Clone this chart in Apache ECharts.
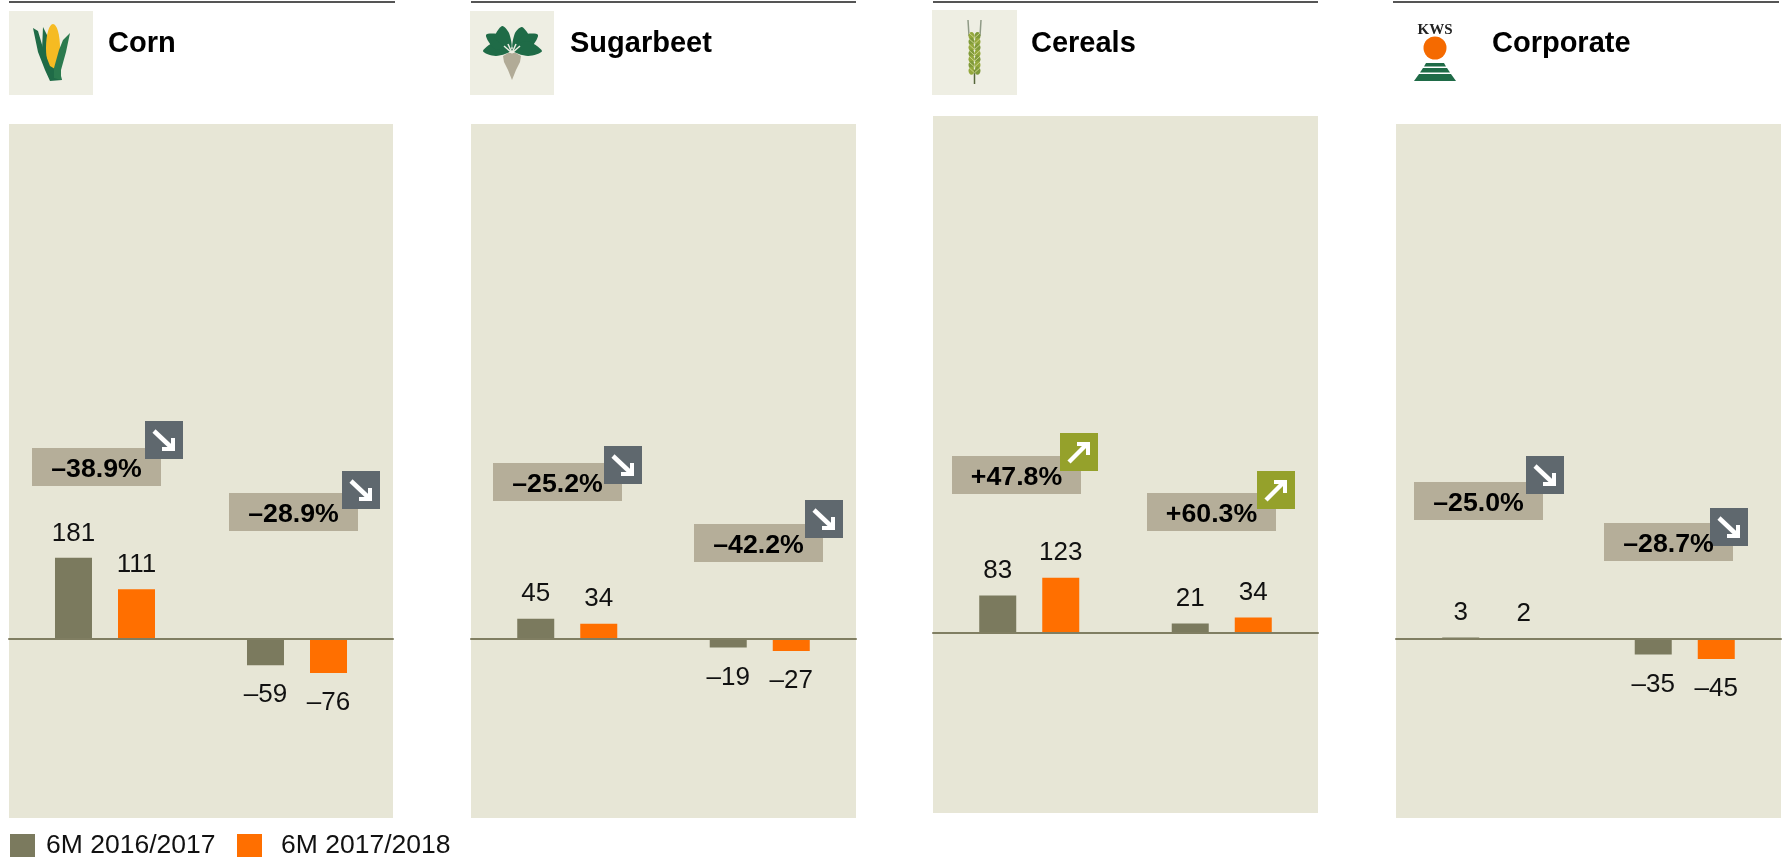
<!DOCTYPE html>
<html>
<head>
<meta charset="utf-8">
<style>html,body{margin:0;padding:0;background:#fff}#c{width:1787px;height:858px}</style>
<script src="https://cdn.jsdelivr.net/npm/echarts@6/dist/echarts.min.js"></script>
</head>
<body>
<div id="c"></div>
<script>
// ---- data ----
const panelNames = ['Corn', 'Sugarbeet', 'Cereals', 'Corporate'];
const seriesNames = ['6M 2016/2017', '6M 2017/2018'];
const categories = ['Group A', 'Group B'];
const prevCorn = [181, -59];
const currCorn = [111, -76];
const prevSugarbeet = [45, -19];
const currSugarbeet = [34, -27];
const prevCereals = [83, 21];
const currCereals = [123, 34];
const prevCorporate = [3, -35];
const currCorporate = [2, -45];
const changeCorn = ['–38.9%', '–28.9%'];
const changeSugarbeet = ['–25.2%', '–42.2%'];
const changeCereals = ['+47.8%', '+60.3%'];
const changeCorporate = ['–25.0%', '–28.7%'];

// ---- styles & layout ----
const GREY = '#7b7a5e', ORANGE = '#ff6f00', PANEL = '#e7e6d6', BOX = '#b5ae99',
      DOWN = '#5f686e', UP = '#95a12b', FONT = '"Liberation Sans", Arial, sans-serif',
      ICONBG = '#eeeee3', LEAF = '#1f6b47';

const panels = [
  { x: 9,    w: 384, top: 124, h: 694, min: -400, max: 1150, lineX: 9,    lineW: 386, prev: prevCorn, curr: currCorn, change: changeCorn, titleX: 108,
    boxes: [[32, 448, 145, 421], [229, 493, 342, 471]] },
  { x: 471,  w: 385, top: 124, h: 694, min: -400, max: 1150, lineX: 471,  lineW: 385, prev: prevSugarbeet, curr: currSugarbeet, change: changeSugarbeet, titleX: 570,
    boxes: [[493, 463, 604, 446], [694, 524, 805, 500]] },
  { x: 933,  w: 385, top: 116, h: 697, min: -402, max: 1153, lineX: 933,  lineW: 385, prev: prevCereals, curr: currCereals, change: changeCereals, titleX: 1031,
    boxes: [[952, 456, 1060, 433], [1147, 493, 1257, 471]] },
  { x: 1396, w: 385, top: 124, h: 694, min: -400, max: 1150, lineX: 1393, lineW: 386, prev: prevCorporate, curr: currCorporate, change: changeCorporate, titleX: 1492,
    boxes: [[1414, 482, 1526, 456], [1604, 523, 1710, 508]] }
];

const grid = [], xAxis = [], yAxis = [], series = [], graphic = [];

function labelOf(v) {
  return { show: true, fontFamily: FONT, fontSize: 26, color: '#111',
    position: v < 0 ? 'bottom' : 'top', distance: v < 0 ? 17 : 11.5 };
}
function dataOf(vals) {
  return vals.map(v => ({ value: v, label: labelOf(v) }));
}
function poly(points, fill, z, smooth) {
  return { type: 'polygon', z: z || 11, silent: true, shape: { points, smooth: smooth || 0 }, style: { fill } };
}
function line(points, stroke, lineWidth, z) {
  return { type: 'polyline', z: z || 11, silent: true, shape: { points },
    style: { stroke, lineWidth, fill: null, lineJoin: 'miter', lineCap: 'butt' } };
}

panels.forEach((p, i) => {
  grid.push({ left: p.x, top: p.top, width: p.w, height: p.h, show: true, backgroundColor: PANEL, borderWidth: 0 });
  xAxis.push({ type: 'category', gridIndex: i, data: categories, z: 5,
    axisLine: { show: true, lineStyle: { color: '#807e62', width: 2 } },
    axisTick: { show: false }, axisLabel: { show: false }, splitLine: { show: false } });
  yAxis.push({ type: 'value', gridIndex: i, show: false, min: p.min, max: p.max, splitLine: { show: false } });
  [p.prev, p.curr].forEach((vals, s) => {
    series.push({ type: 'bar', name: seriesNames[s], xAxisIndex: i, yAxisIndex: i,
      barWidth: 37, barGap: '70.3%', itemStyle: { color: s ? ORANGE : GREY },
      label: { show: true, formatter: o => String(o.value).replace('-', '–') },
      data: dataOf(vals) });
  });

  // top rule and title
  graphic.push({ type: 'rect', z: 10, silent: true, shape: { x: p.lineX, y: 1, width: p.lineW, height: 2 }, style: { fill: '#555' } });
  graphic.push({ type: 'text', z: 11, silent: true, style: { text: panelNames[i], x: p.titleX, y: 44,
    font: 'bold 29px ' + FONT, fill: '#000', align: 'left', textAlign: 'left', verticalAlign: 'middle', textVerticalAlign: 'middle' } });

  // change badges
  p.boxes.forEach((b, k) => {
    const txt = p.change[k], up = txt[0] === '+';
    graphic.push({ type: 'rect', z: 10, silent: true, shape: { x: b[0], y: b[1], width: 129, height: 38 }, style: { fill: BOX } });
    graphic.push({ type: 'rect', z: 11, silent: true, shape: { x: b[2], y: b[3], width: 38, height: 38 }, style: { fill: up ? UP : DOWN } });
    const ax = b[2], ay = b[3];
    if (up) {
      graphic.push(line([[ax + 9, ay + 29], [ax + 27, ay + 11]], '#fff', 4.5, 12));
      graphic.push(line([[ax + 17, ay + 11], [ax + 28, ay + 11], [ax + 28, ay + 22]], '#fff', 4, 12));
    } else {
      graphic.push(line([[ax + 9, ay + 10], [ax + 27, ay + 27]], '#fff', 4.5, 12));
      graphic.push(line([[ax + 17, ay + 28], [ax + 28, ay + 28], [ax + 28, ay + 17]], '#fff', 4, 12));
    }
    graphic.push({ type: 'text', z: 13, silent: true, style: { text: txt, x: b[0] + 64.5, y: b[1] + 22,
      font: 'bold 26.7px ' + FONT, fill: '#000', align: 'center', textAlign: 'center', verticalAlign: 'middle', textVerticalAlign: 'middle' } });
  });
});

// ---- icons ----
// corn
graphic.push({ type: 'rect', z: 10, silent: true, shape: { x: 9, y: 11, width: 84, height: 84 }, style: { fill: ICONBG } });
graphic.push(poly([[43,27],[47,35],[47,60],[52,74],[47,72],[42,50]], LEAF, 11));
graphic.push({ type: 'ellipse', z: 12, silent: true, shape: { cx: 53, cy: 48, rx: 7, ry: 24 }, style: { fill: '#f6bb22' } });
graphic.push(poly([[33,28],[38,31],[43,48],[50,66],[60,72],[62,80],[50,81],[45,70],[38,52]], LEAF, 13));
graphic.push(poly([[70,33],[66,52],[61,70],[61,80],[54,78],[54,68],[59,50],[63,40]], '#2b7a4e', 13));

// sugarbeet
graphic.push({ type: 'rect', z: 10, silent: true, shape: { x: 470, y: 11, width: 84, height: 84 }, style: { fill: ICONBG } });
graphic.push(poly([[503,56],[508,53],[516,53],[521,56],[520,62],[516,70],[512,80],[508,70],[504,62]], '#b1ab97', 11));
[
  [[512,50],[498,41],[483,51],[496,56]],
  [[510,48],[500,35],[486,35],[495,49]],
  [[511,48],[509,33],[502,26],[495,38]],
  [[513,48],[515,33],[522,27],[529,38]],
  [[514,48],[524,35],[538,35],[529,49]],
  [[512,50],[526,41],[542,51],[528,56]]
].forEach(l => graphic.push(poly(l, LEAF, 11, 0.3)));
graphic.push(line([[512,53],[504,46]], '#eeeee3', 1.5, 12));
graphic.push(line([[512,53],[508,44]], '#eeeee3', 1.5, 12));
graphic.push(line([[512,53],[516,44]], '#eeeee3', 1.5, 12));
graphic.push(line([[512,53],[520,46]], '#eeeee3', 1.5, 12));

// cereals
graphic.push({ type: 'rect', z: 10, silent: true, shape: { x: 932, y: 10, width: 85, height: 85 }, style: { fill: ICONBG } });
graphic.push(line([[968,20],[969,36]], '#8f9a86', 1.5, 11));
graphic.push(line([[981,20],[980,36]], '#8f9a86', 1.5, 11));
graphic.push(line([[974.5,70],[974.5,84]], '#55663a', 1.5, 11));
for (let k = 0; k < 7; k++) {
  const y = 36 + k * 5.8;
  graphic.push({ type: 'ellipse', z: 11, silent: true, shape: { cx: 971.5, cy: y, rx: 3, ry: 4 }, style: { fill: k % 2 ? '#7f9a3a' : '#94a83c' } });
  graphic.push({ type: 'ellipse', z: 11, silent: true, shape: { cx: 977.5, cy: y, rx: 3, ry: 4 }, style: { fill: k % 2 ? '#94a83c' : '#7f9a3a' } });
  graphic.push(line([[974.5, y + 2], [969, y - 3]], '#c9d28a', 1, 12));
  graphic.push(line([[974.5, y + 2], [980, y - 3]], '#c9d28a', 1, 12));
}

// corporate
graphic.push({ type: 'text', z: 11, silent: true, style: { text: 'KWS', x: 1435, y: 30,
  font: 'bold 15px "Liberation Serif", serif', fill: '#222', align: 'center', textAlign: 'center', verticalAlign: 'middle', textVerticalAlign: 'middle' } });
graphic.push({ type: 'circle', z: 11, silent: true, shape: { cx: 1435, cy: 48, r: 11.5 }, style: { fill: '#f56a00' } });
graphic.push(poly([[1426,63],[1444,63],[1446,66.5],[1424,66.5]], LEAF, 11));
graphic.push(poly([[1423,68],[1447,68],[1450,72.5],[1420,72.5]], LEAF, 11));
graphic.push(poly([[1419,74],[1451,74],[1456,81],[1414,81]], LEAF, 11));

const legendBase = { top: 832, itemWidth: 25, itemHeight: 23, padding: 0, selectedMode: false, icon: 'rect' };
const legendText = { fontFamily: FONT, fontSize: 26.5, color: '#111' };
const option = {
  animation: false,
  textStyle: { fontFamily: FONT },
  legend: [
    Object.assign({}, legendBase, { left: 10, data: [seriesNames[0]],
      textStyle: Object.assign({}, legendText, { padding: [4, 0, 0, 6] }) }),
    Object.assign({}, legendBase, { left: 237, data: [seriesNames[1]],
      textStyle: Object.assign({}, legendText, { padding: [4, 0, 0, 14] }) })
  ],
  tooltip: { show: false },
  grid, xAxis, yAxis, series, graphic
};
const chart = echarts.init(document.getElementById('c'), null, { renderer: 'canvas' });
chart.setOption(option);
</script>
</body>
</html>
